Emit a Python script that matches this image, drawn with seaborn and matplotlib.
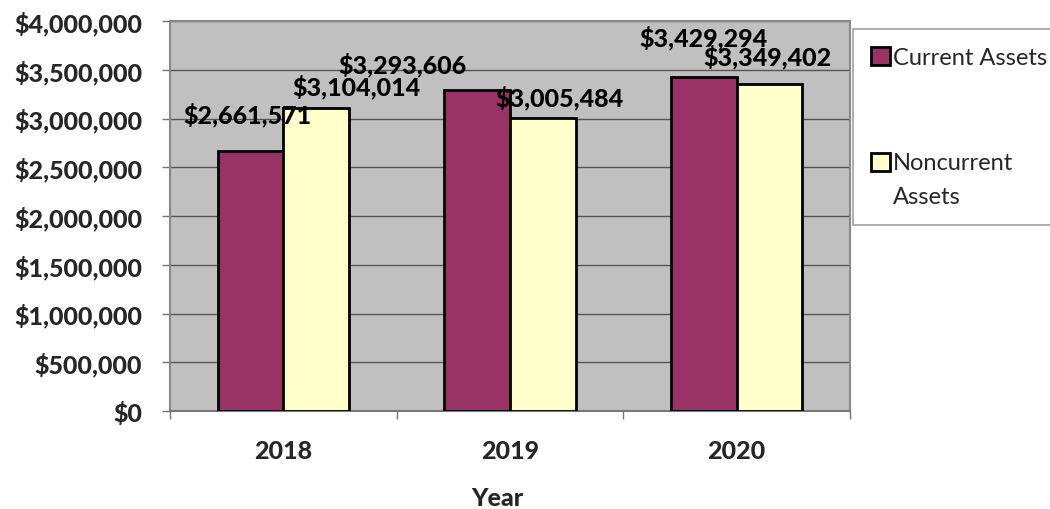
import matplotlib
matplotlib.use("Agg")
import matplotlib.pyplot as plt
import seaborn as sns
import pandas as pd
from matplotlib.ticker import FuncFormatter, MultipleLocator, FixedLocator
from matplotlib.patches import Patch

years = ["2018", "2019", "2020"]
current_assets = [2661571, 3293606, 3429294]
noncurrent_assets = [3104014, 3005484, 3349402]
series_names = ["Current Assets", "Noncurrent Assets"]
legend_labels = ["Current Assets", "Noncurrent\nAssets"]
colors = ["#993366", "#FFFFCC"]

# label offsets in pixels (dx, dy) relative to bar top-center
cur_offsets = [(-3, 37), (-75, 26), (0, 40)]
non_offsets = [(40, 22), (17, 21), (-2, 28)]

df = pd.DataFrame({
    "Year": years * 2,
    "Value": current_assets + noncurrent_assets,
    "Series": [series_names[0]] * 3 + [series_names[1]] * 3,
})

sns.set_theme(style="white")
plt.rcParams["font.family"] = ["Lato", "DejaVu Sans"]
BW = "black"

W, H = 1050, 510
fig = plt.figure(figsize=(W / 100, H / 100), dpi=100)
ax = fig.add_axes([170 / W, (H - 412) / H, 680 / W, 390 / H])
ax.set_facecolor("#C0C0C0")

sns.barplot(data=df, x="Year", y="Value", hue="Series", palette=colors,
            width=0.578, gap=0, saturation=1, edgecolor="black", linewidth=2,
            ax=ax, legend=False, zorder=3)

ax.set_xlim(-0.5, 2.5)
ax.set_ylim(0, 4000000)
ax.yaxis.set_major_locator(MultipleLocator(500000))
ax.yaxis.set_major_formatter(FuncFormatter(lambda v, p: f"${v:,.0f}"))
ax.grid(axis="y", color="#555555", linewidth=1, zorder=0)
ax.set_axisbelow(True)

for s in ax.spines.values():
    s.set_color("#888888")
    s.set_linewidth(1.5)
ax.spines["bottom"].set_color("#777777")

ax.tick_params(axis="y", which="major", left=True, length=6, width=1, color="#777777",
               pad=14, labelsize=18)
for lab in ax.get_yticklabels():
    lab.set_fontweight(BW)

ax.set_xticks([0, 1, 2])
ax.set_xticklabels(years, fontsize=18, fontweight=BW)
ax.tick_params(axis="x", which="major", bottom=False, length=0, pad=20)
ax.xaxis.set_minor_locator(FixedLocator([-0.5, 0.5, 1.5, 2.5]))
ax.tick_params(axis="x", which="minor", bottom=True, length=6, width=1, color="#777777")

ax.set_ylabel("")
ax.set_xlabel("Year", fontsize=18, fontweight=BW)
ax.xaxis.set_label_coords(0.481, -0.193)

# data labels
patches = sorted([p for p in ax.patches if p.get_height() > 0], key=lambda p: p.get_x())
left_bars = patches[0::2]
right_bars = patches[1::2]
for bars, vals, offs in [(left_bars, current_assets, cur_offsets),
                         (right_bars, noncurrent_assets, non_offsets)]:
    for p, v, off in zip(bars, vals, offs):
        ax.annotate(f"${v:,.0f}", (p.get_x() + p.get_width() / 2, p.get_height()),
                    xytext=off, textcoords="offset pixels", ha="center", va="center",
                    fontsize=18, fontweight=BW, color="black", zorder=5,
                    annotation_clip=False)

# legend
handles = [Patch(facecolor=c, edgecolor="black", linewidth=2) for c in colors]
leg = fig.legend(handles, legend_labels, loc="upper left",
                 bbox_to_anchor=(853 / W, 1 - 30 / H), bbox_transform=fig.transFigure,
                 frameon=True, fancybox=False, edgecolor="#888888", fontsize=17,
                 handlelength=0.8, handleheight=0.8, handletextpad=0.15,
                 borderpad=0.75, labelspacing=3.55, borderaxespad=0)
leg.get_frame().set_linewidth(1.2)
for t in leg.get_texts():
    t.set_linespacing(1.8)
hnd = leg.legend_handles[1]
hnd.set_y(hnd.get_y() + 13)

fig.savefig("out.png", dpi=100, facecolor="white")
